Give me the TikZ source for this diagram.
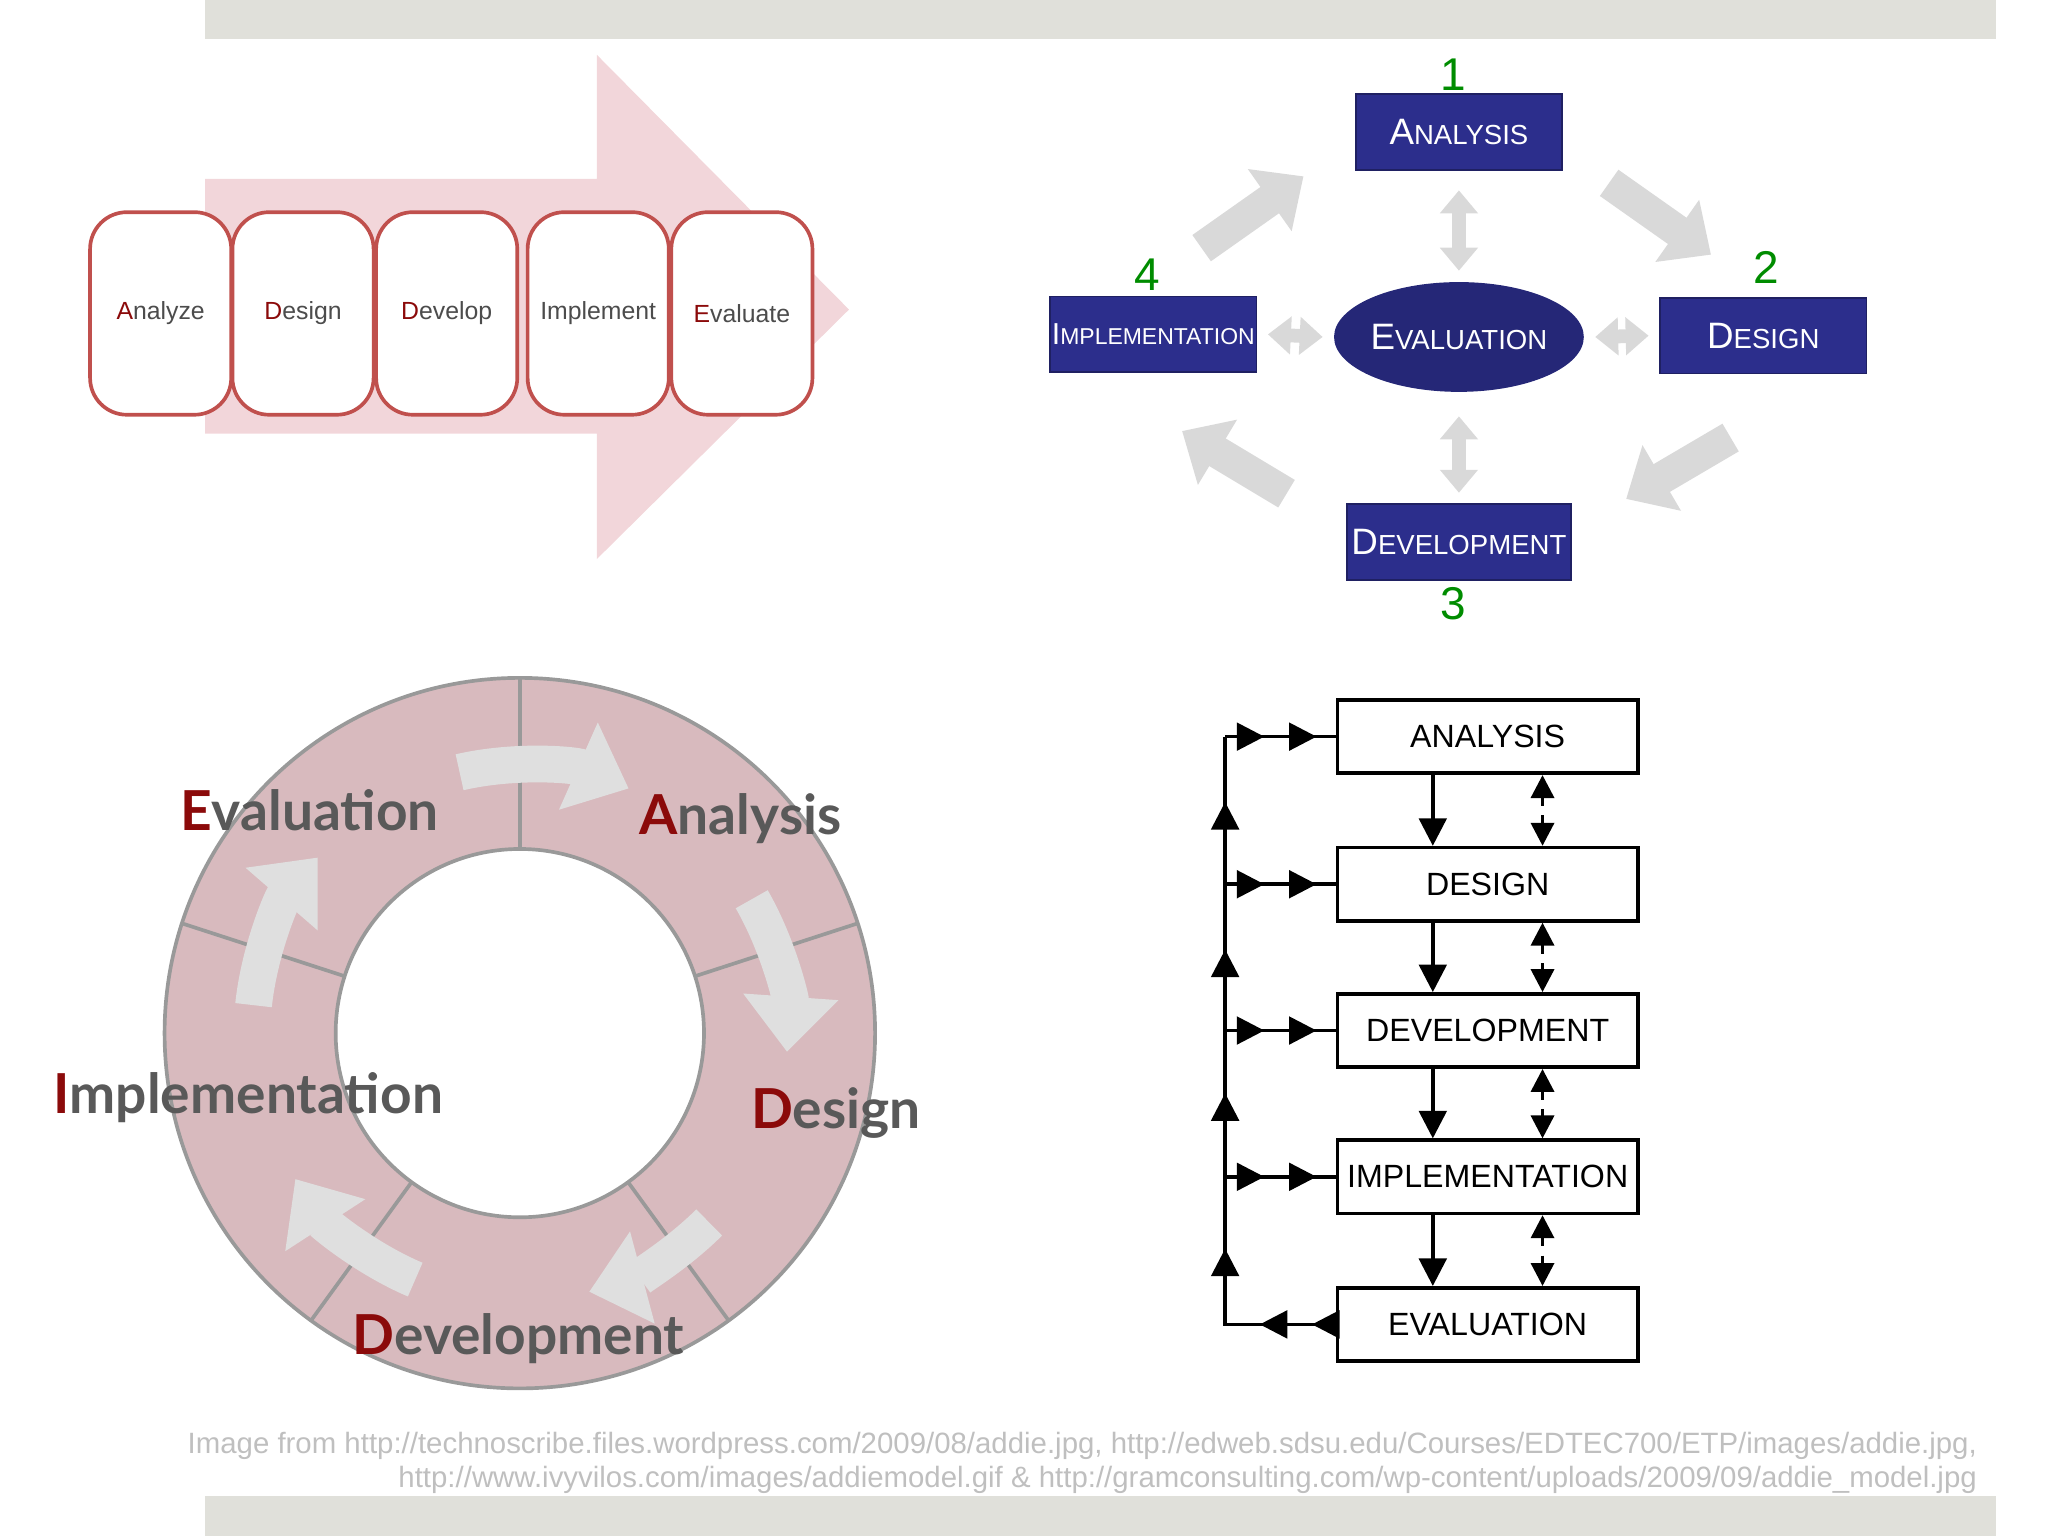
\documentclass[tikz,border=0pt]{standalone}
\usepackage{fontspec}
\setmainfont{Liberation Sans}
\newfontfamily\ringfont{Lato}
\usetikzlibrary{arrows.meta,shapes.geometric,calc}
\definecolor{bandgray}{RGB}{224,224,218}
\definecolor{arrowpink}{RGB}{242,214,218}
\definecolor{boxred}{RGB}{192,80,77}
\definecolor{navy}{RGB}{44,46,140}
\definecolor{ringpink}{RGB}{216,186,190}
\definecolor{darkred}{RGB}{139,10,10}
\newcommand\capsc[2]{{\fontsize{8}{8}\selectfont #1}{\fontsize{6}{7}\selectfont #2}}
\newcommand\first[1]{\textcolor{darkred}{#1}}
\begin{document}
\begin{tikzpicture}[x=0.01cm,y=-0.01cm,
  step box/.style={draw=boxred,thick,fill=white,rounded corners=8pt,minimum width=1.08cm,minimum height=1.55cm,text width=1cm,align=center,inner sep=0pt,font=\fontsize{5.4}{6}\selectfont,text=black!70},
  phase/.style={fill=navy,draw=navy!70!black,text=white,minimum width=1.58cm,minimum height=0.58cm,inner sep=1pt},
  num/.style={text=green!55!black,font=\fontsize{10}{10}\selectfont},
  gray arrow/.style={draw=gray!30,line width=7pt,-{Triangle[length=9pt,width=16pt]}},
  gray double/.style={draw=gray!30,line width=3pt,{Triangle[length=5pt,width=8pt]}-{Triangle[length=5pt,width=8pt]}},
  ring arrow/.style={draw=gray!25,line width=8pt,-{Triangle[length=12pt,width=20pt]}},
  ring label/.style={font=\ringfont\bfseries\fontsize{12}{13}\selectfont,text=black!65},
  flow box/.style={draw,thick,fill=white,minimum width=2.3cm,minimum height=0.56cm,inner sep=1pt,font=\fontsize{7}{8}\selectfont},
  flow/.style={thick,-{Triangle[length=6pt,width=6pt]}},
  dflow/.style={thick,dash pattern=on 2pt off 2pt,{Triangle[length=5pt,width=5pt]}-{Triangle[length=5pt,width=5pt]}},
  note/.style={text=gray!50,font=\fontsize{6.4}{7.5}\selectfont,anchor=east}]
\useasboundingbox (0,0) rectangle (1568,1176);
% bands
\fill[bandgray] (157,0) rectangle (1528,30);
\fill[bandgray] (157,1145) rectangle (1528,1176);

% top left: process arrow
\fill[arrowpink] (157,137) -- (457,137) -- (457,42) -- (650,237) -- (457,428) -- (457,332) -- (157,332) -- cycle;
\node[step box] (analyze) at (123,240) {\first{A}nalyze};
\node[step box] (design) at (232,240) {\first{D}esign};
\node[step box] (develop) at (342,240) {\first{D}evelop};
\node[step box] (implement) at (458,240) {Implement};
\node[step box] (evaluate) at (568,240) {\first{E}valuate};

% top right: phase diagram
\node[phase] (analysis) at (1117,101) {\capsc{A}{NALYSIS}};
\node[phase] (designB) at (1350,257) {\capsc{D}{ESIGN}};
\node[phase] (development) at (1117,415) {\capsc{D}{EVELOPMENT}};
\node[phase,inner sep=0pt] (implementation) at (883,256) {\fontsize{6.6}{7}\selectfont I{\fontsize{5}{6}\selectfont MPLEMENTATION}};
\node[ellipse,fill=navy!85!black,text=white,minimum width=1.54cm,minimum height=0.84cm,inner sep=0pt] (evaluation) at (1117,258) {\capsc{E}{VALUATION}};
\node[num] at (1113,57) {1};
\node[num] at (1352,205) {2};
\node[num] at (1113,462) {3};
\node[num] at (878,210) {4};
\coordinate (c1) at (920,190); \coordinate (c2) at (998,135);
\coordinate (c3) at (1232,140); \coordinate (c4) at (1310,195);
\coordinate (c5) at (1325,335); \coordinate (c6) at (1245,382);
\coordinate (c7) at (985,378); \coordinate (c8) at (905,330);
\draw[gray arrow] (c1) -- (c2);
\draw[gray arrow] (c3) -- (c4);
\draw[gray arrow] (c5) -- (c6);
\draw[gray arrow] (c7) -- (c8);
\draw[gray double] ([yshift=-0.15cm]analysis.south) -- ([yshift=0.08cm]evaluation.north);
\draw[gray double] ([yshift=-0.18cm]evaluation.south) -- ([yshift=0.08cm]development.north);
\draw[gray double] ([xshift=0.08cm]implementation.east) -- ([xshift=-0.08cm]evaluation.west);
\draw[gray double] ([xshift=0.08cm]evaluation.east) -- ([xshift=-0.08cm]designB.west);

% bottom left: ring
\coordinate (ring) at (398,791);
\fill[ringpink,draw=gray!80,thick,even odd rule] (ring) circle[radius=272] (ring) circle[radius=141];
\foreach \a in {90,18,-54,-126,162}
  \draw[gray!80,thick] ($(ring)+(-\a:141)$) -- ($(ring)+(-\a:272)$);
\foreach \s/\e in {103/66,30/-4,-45/-75,-113/-147,174/139}
  \draw[ring arrow] ($(ring)+(-\s:205)$) arc[start angle=-\s,end angle=-\e,radius=205];
\node[ring label] (ev) at (237,620) {\first{E}valuation};
\node[ring label] (an) at (567,627) {\first{A}nalysis};
\node[ring label] (im) at (190,840) {\first{I}mplementation};
\node[ring label] (de) at (640,852) {\first{D}esign};
\node[ring label] (dv) at (397,1025) {\first{D}evelopment};

% bottom right: flow chart
\node[flow box] (fa) at (1139,564) {ANALYSIS};
\node[flow box] (fd) at (1139,677) {DESIGN};
\node[flow box] (fv) at (1139,789) {DEVELOPMENT};
\node[flow box] (fi) at (1139,901) {IMPLEMENTATION};
\node[flow box] (fe) at (1139,1014) {EVALUATION};
\foreach \u/\l in {fa/fd,fd/fv,fv/fi,fi/fe}{
  \draw[flow] (\u.south-|1097,0) -- (\l.north-|1097,0);
  \draw[dflow] (\u.south-|1181,0) -- (\l.north-|1181,0);
}
\coordinate (top) at (938,564);
\coordinate (bot) at (938,1014);
\draw[thick] (top) -- (bot) -- (fe.west);
\foreach \b in {fa,fd,fv,fi}{
  \draw[thick] (\b.west-|top) -- (\b.west);
  \draw[flow] (\b.west-|top) -- ++(30,0);
  \draw[flow] (\b.west-|top) -- ++(70,0);
}
\draw[flow] (fe.west) -- ++(-18,0);
\draw[flow] (fe.west) -- ++(-58,0);
\foreach \y in {962,843,733,620}
  \draw[flow] (938,\y+12) -- (938,\y-6);

% source note
\node[note] (src1) at (1526,1107) {Image from http://technoscribe.files.wordpress.com/2009/08/addie.jpg, http://edweb.sdsu.edu/Courses/EDTEC700/ETP/images/addie.jpg,};
\node[note] (src2) at (1526,1133) {http://www.ivyvilos.com/images/addiemodel.gif \& http://gramconsulting.com/wp-content/uploads/2009/09/addie\_model.jpg};
\end{tikzpicture}
\end{document}
